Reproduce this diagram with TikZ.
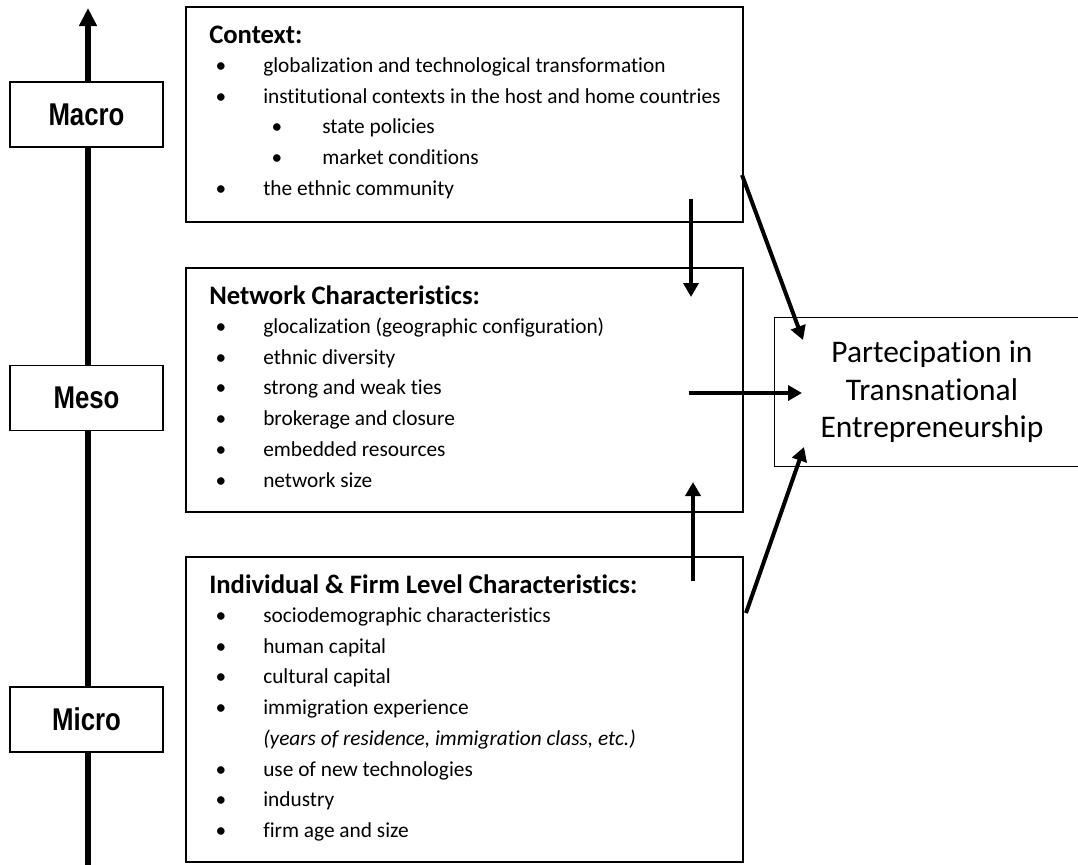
\documentclass[tikz,border=0pt]{standalone}
\usepackage{fontspec}
\setmainfont{Carlito}[Ligatures={NoCommon}, RawFeature={-liga;-calt;-clig;-dlig}]
\newfontfamily\lvlfont[FakeStretch=0.82]{Liberation Sans}
\usetikzlibrary{arrows.meta,fit}

\begin{document}
\begin{tikzpicture}[x=0.75pt,y=-0.75pt,
  panel/.style={draw, line width=1.4pt, inner sep=0pt},
  level/.style={draw, fill=white, line width=1.4pt, minimum width=114.75pt,
    minimum height=48.75pt, inner sep=0pt,
    font=\lvlfont\bfseries\fontsize{23.6}{28}\selectfont},
  head/.style={anchor=base west, inner sep=0pt, font=\bfseries\fontsize{20}{24}\selectfont},
  item/.style={anchor=base west, inner sep=0pt, font=\fontsize{16}{19}\selectfont},
  dot/.style={anchor=base, inner sep=0pt, font=\fontsize{16}{19}\selectfont},
  link/.style={line width=3pt, -{Triangle[length=10.5pt,width=11.25pt]}},
  axis/.style={line width=4.1pt, -{Triangle[length=13.5pt,width=12.75pt]}}
]
\useasboundingbox (0,0) rectangle (1078,864);

% vertical level axis
\coordinate (axisfoot) at (88,870);
\coordinate (axishead) at (88,8);
\draw[axis] (axisfoot) -- (axishead);

% level labels
\node[level] (macro) at (86.5,114.5) {Macro};
\node[level] (meso)  at (86.5,398) {Meso};
\node[level] (micro) at (86.5,719.5) {Micro};

% context panel
\node[panel, fit={(186,7) (743,222)}] (ctx) {};
\node[head] (ctxhead) at (209,43) {Context:};
\foreach \y/\t in {72/{globalization and technological transformation},
                   103/{institutional contexts in the host and home countries},
                   195/{the ethnic community}} {
  \node[dot] (ctxdot\y) at (221,\y) {\textbullet};
  \node[item] (ctxitem\y) at (263,\y) {\t};
}
\foreach \y/\t in {133/{state policies}, 164/{market conditions}} {
  \node[dot] (ctxdot\y) at (277,\y) {\textbullet};
  \node[item] (ctxitem\y) at (322,\y) {\t};
}

% network panel
\node[panel, fit={(186,268) (743,512)}] (net) {};
\node[head] (nethead) at (209,304) {Network Characteristics:};
\foreach \y/\t in {333/{glocalization (geographic configuration)},
                   364/{ethnic diversity},
                   394/{strong and weak ties},
                   425/{brokerage and closure},
                   456/{embedded resources},
                   487/{network size}} {
  \node[dot] (netdot\y) at (221,\y) {\textbullet};
  \node[item] (netitem\y) at (263,\y) {\t};
}

% individual and firm panel
\node[panel, fit={(186,557) (743,862)}] (ind) {};
\node[head] (indhead) at (209,593) {Individual \& Firm Level Characteristics:};
\foreach \y/\t in {622/{sociodemographic characteristics},
                   653/{human capital},
                   683/{cultural capital},
                   714/{immigration experience},
                   776/{use of new technologies},
                   806/{industry},
                   837/{firm age and size}} {
  \node[dot] (inddot\y) at (221,\y) {\textbullet};
  \node[item] (inditem\y) at (263,\y) {\t};
}
\node[item] (indnote) at (263,745) {\itshape (years of residence, immigration class, etc.)};

% outcome
\node[draw, line width=1.4pt, minimum width=236.25pt, minimum height=111.75pt,
  align=center, font=\fontsize{23.6}{28.1}\selectfont] (tep) at (932,392)
  {Partecipation in\\Transnational\\Entrepreneurship};

% connectors
\coordinate (ctxdown) at (691,199);
\coordinate (netin1) at (691,297);
\coordinate (indup) at (693,581);
\coordinate (netin2) at (693,482);
\coordinate (netout) at (689,393);
\coordinate (tepin2) at (802,393);
\coordinate (ctxout) at (742,175);
\coordinate (tepin1) at (803,340);
\coordinate (indout) at (746,613);
\coordinate (tepin3) at (804,447);

\draw[link] (ctxdown) -- (netin1);
\draw[link] (indup) -- (netin2);
\draw[link] (netout) -- (tepin2);
\draw[link] (ctxout) -- (tepin1);
\draw[link] (indout) -- (tepin3);
\end{tikzpicture}
\end{document}
